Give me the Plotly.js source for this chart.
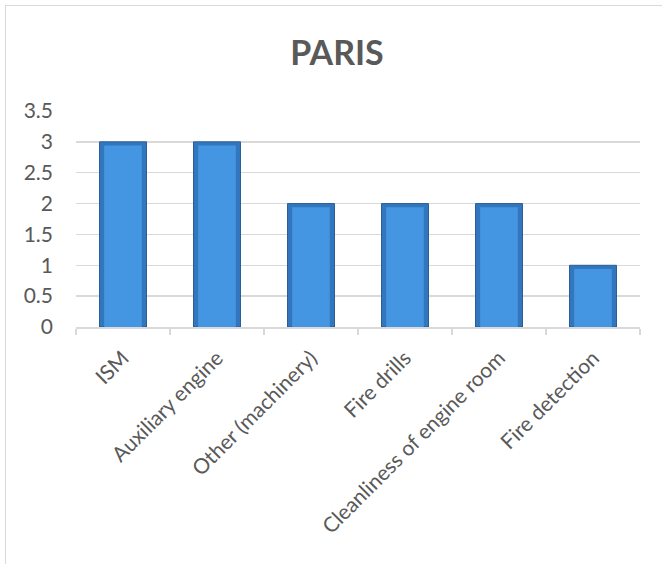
<!DOCTYPE html>
<html>
<head>
<meta charset="utf-8">
<script src="https://cdn.plot.ly/plotly-3.0.1.min.js"></script>
<style>
html,body{margin:0;padding:0;background:#fff;}
#wrap{position:relative;width:662px;height:564px;overflow:hidden;}
#frame{position:absolute;left:5px;top:5px;width:700px;height:600px;border-left:1.5px solid #d9d9d9;border-top:1.5px solid #d9d9d9;pointer-events:none;}
#chart{position:absolute;left:0;top:0;width:662px;height:564px;}
</style>
</head>
<body>
<div id="wrap">
<div id="chart"></div>
<div id="frame"></div>
</div>
<script>
const categories = ["ISM", "Auxiliary engine", "Other (machinery)", "Fire drills", "Cleanliness of engine room", "Fire detection"];
const values = [3, 3, 2, 2, 2, 1];
const yTicks = [0, 0.5, 1, 1.5, 2, 2.5, 3, 3.5];
const yTickLabels = ["0", "0.5", "1", "1.5", "2", "2.5", "3", "3.5"];

const outer = {
  type: "bar", x: categories, y: values, width: 0.5,
  marker: {color: "#3277be", line: {color: "#2a5e96", width: 1}},
  hoverinfo: "skip", showlegend: false
};
const inner = {
  type: "bar", x: categories, y: values.map(v => v - 0.06), width: 0.4,
  marker: {color: "#4496e2", line: {width: 0}},
  hoverinfo: "skip", showlegend: false
};

const layout = {
  width: 662, height: 564,
  margin: {l: 76, r: 22, t: 111, b: 237},
  paper_bgcolor: "#fff", plot_bgcolor: "#fff",
  barmode: "overlay",
  font: {family: "Lato, 'Open Sans', sans-serif", color: "#595959", size: 20},
  title: {text: "<b>PARIS</b>", x: 337/662, xanchor: "center", y: 1 - 53/564, yanchor: "middle", yref: "container", xref: "container",
          font: {family: "Lato, 'Open Sans', sans-serif", size: 34, color: "#595959"}},
  xaxis: {type: "category", tickangle: -45, showgrid: false, showline: true, linecolor: "#d9d9d9", linewidth: 1.5,
          ticks: "outside", tickson: "boundaries", ticklen: 6, tickcolor: "#d9d9d9", tickwidth: 1.5, ticklabelstandoff: 9,
          tickfont: {size: 21, color: "#595959"}, zeroline: false},
  yaxis: {range: [0, 3.5], tickvals: yTicks, ticktext: yTickLabels, showgrid: true, gridcolor: "#d9d9d9", gridwidth: 1.5,
          showline: false, zeroline: false, ticks: "", ticklabelstandoff: 22,
          tickfont: {size: 21, color: "#595959"}}
};

Plotly.newPlot("chart", [outer, inner], layout, {displayModeBar: false, staticPlot: true});
</script>
</body>
</html>
